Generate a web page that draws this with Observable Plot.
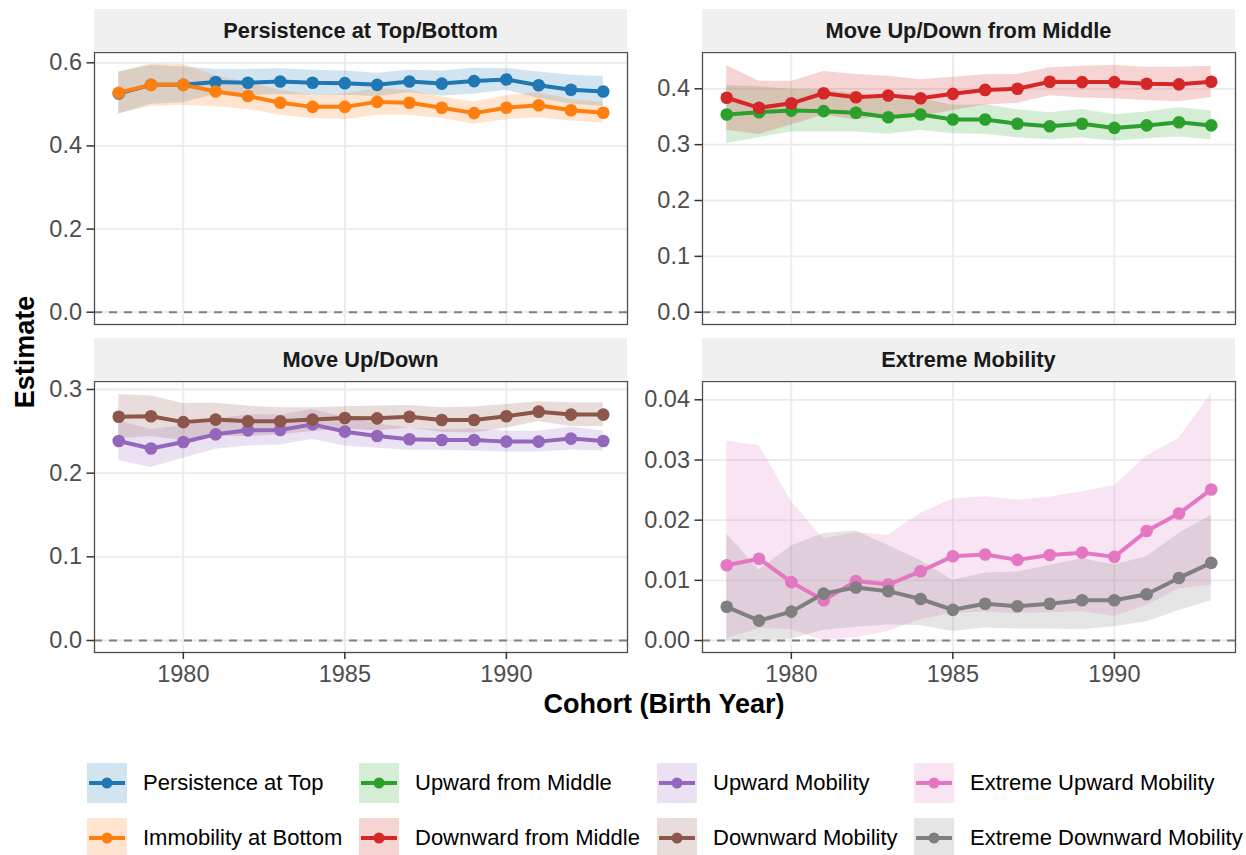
<!DOCTYPE html>
<html>
<head>
<meta charset="utf-8">
<script src="https://cdn.jsdelivr.net/npm/d3@7"></script>
<script src="https://cdn.jsdelivr.net/npm/@observablehq/plot@0.6"></script>
<style>
  html, body { margin: 0; padding: 0; background: #ffffff; }
  #chart { position: relative; width: 1246px; height: 855px; overflow: hidden;
           font-family: "Liberation Sans", Arial, Helvetica, sans-serif; }
  .panel { position: absolute; }
  .strip { position: absolute; background: #f0f0f0; color: #1a1a1a; font-weight: bold;
           font-size: 21.8px; display: flex; align-items: center; justify-content: center; }
  .axis-title { position: absolute; font-weight: bold; font-size: 27px; color: #000; white-space: nowrap; }
  .legend-item { position: absolute; display: flex; align-items: center; height: 40px; }
  .legend-item span { font-size: 22px; color: #000; margin-left: 16px; white-space: nowrap; }
</style>
</head>
<body>
<div id="chart"></div>
<script>
// Birth cohorts
const years = [1978, 1979, 1980, 1981, 1982, 1983, 1984, 1985, 1986, 1987, 1988, 1989, 1990, 1991, 1992, 1993];

// Persistence at Top / Immobility at Bottom
const persistTop    = [0.526, 0.547, 0.547, 0.554, 0.552, 0.555, 0.552, 0.551, 0.547, 0.555, 0.550, 0.556, 0.560, 0.546, 0.535, 0.531];
const persistTopLo  = [0.476, 0.500, 0.504, 0.524, 0.521, 0.524, 0.522, 0.522, 0.519, 0.528, 0.520, 0.525, 0.534, 0.514, 0.500, 0.495];
const persistTopHi  = [0.577, 0.594, 0.590, 0.584, 0.584, 0.586, 0.582, 0.580, 0.575, 0.582, 0.580, 0.587, 0.586, 0.578, 0.570, 0.567];
const immobBottom   = [0.528, 0.547, 0.547, 0.531, 0.520, 0.504, 0.494, 0.494, 0.506, 0.504, 0.492, 0.479, 0.492, 0.498, 0.486, 0.480];
const immobBottomLo = [0.478, 0.495, 0.498, 0.494, 0.487, 0.474, 0.466, 0.463, 0.474, 0.474, 0.466, 0.452, 0.463, 0.468, 0.460, 0.455];
const immobBottomHi = [0.578, 0.597, 0.596, 0.568, 0.553, 0.534, 0.522, 0.525, 0.538, 0.534, 0.518, 0.506, 0.521, 0.528, 0.512, 0.505];

// Upward / Downward from Middle
const upMiddle     = [0.354, 0.358, 0.361, 0.360, 0.357, 0.349, 0.354, 0.345, 0.345, 0.3375, 0.333, 0.3375, 0.330, 0.3345, 0.340, 0.3345];
const upMiddleLo   = [0.302, 0.3125, 0.3226, 0.3226, 0.3226, 0.3185, 0.3256, 0.3196, 0.3185, 0.3125, 0.3089, 0.3119, 0.3065, 0.3107, 0.3137, 0.3089];
const upMiddleHi   = [0.406, 0.4035, 0.3994, 0.3974, 0.3914, 0.3795, 0.3824, 0.3704, 0.3715, 0.3625, 0.3571, 0.3631, 0.3535, 0.3583, 0.3663, 0.3601];
const downMiddle   = [0.384, 0.366, 0.374, 0.392, 0.385, 0.388, 0.383, 0.391, 0.398, 0.400, 0.4125, 0.412, 0.412, 0.409, 0.408, 0.4125];
const downMiddleLo = [0.326, 0.318, 0.335, 0.353, 0.344, 0.353, 0.350, 0.361, 0.371, 0.374, 0.3875, 0.3835, 0.382, 0.379, 0.377, 0.3845];
const downMiddleHi = [0.4417, 0.4137, 0.4131, 0.4310, 0.4256, 0.4226, 0.4161, 0.4208, 0.4250, 0.4256, 0.4375, 0.4405, 0.4417, 0.4387, 0.4387, 0.4405];

// Upward / Downward Mobility
const upMob     = [0.2385, 0.2294, 0.2373, 0.2464, 0.2512, 0.2516, 0.2583, 0.2496, 0.2444, 0.2405, 0.2397, 0.2397, 0.2377, 0.2377, 0.2413, 0.2385];
const upMobLo   = [0.2147, 0.2067, 0.2179, 0.2286, 0.2325, 0.2337, 0.2405, 0.2325, 0.2298, 0.2274, 0.2274, 0.2266, 0.2254, 0.2254, 0.2278, 0.2266];
const upMobHi   = [0.2623, 0.2521, 0.2567, 0.2642, 0.2699, 0.2695, 0.2761, 0.2667, 0.2590, 0.2536, 0.2520, 0.2528, 0.2500, 0.2500, 0.2548, 0.2504];
const downMob   = [0.2675, 0.268, 0.261, 0.264, 0.262, 0.262, 0.264, 0.266, 0.2655, 0.2675, 0.2635, 0.2635, 0.268, 0.2735, 0.270, 0.270];
const downMobLo = [0.2410, 0.2439, 0.2387, 0.2443, 0.2438, 0.2458, 0.2498, 0.2526, 0.2508, 0.2540, 0.2488, 0.2480, 0.2539, 0.2617, 0.2559, 0.2559];
const downMobHi = [0.2940, 0.2921, 0.2833, 0.2837, 0.2802, 0.2782, 0.2782, 0.2794, 0.2802, 0.2810, 0.2782, 0.2790, 0.2821, 0.2853, 0.2841, 0.2841];

// Extreme Upward / Downward Mobility
const extUp     = [0.0125, 0.0136, 0.0097, 0.0067, 0.0099, 0.0093, 0.0115, 0.0140, 0.0143, 0.0134, 0.0142, 0.0146, 0.0139, 0.0182, 0.0211, 0.0251];
const extUpLo   = [0.0003, 0.0020, 0.0018, 0.0000, 0.0005, 0.0015, 0.0035, 0.0045, 0.0047, 0.0045, 0.0046, 0.0048, 0.0040, 0.0058, 0.0086, 0.0092];
const extUpHi   = [0.0331, 0.0324, 0.0231, 0.0169, 0.0179, 0.0175, 0.0211, 0.0235, 0.0239, 0.0233, 0.0238, 0.0247, 0.0257, 0.0306, 0.0336, 0.0410];
const extDown   = [0.0056, 0.0033, 0.0048, 0.0078, 0.0088, 0.0082, 0.0069, 0.0051, 0.0061, 0.0057, 0.0061, 0.0067, 0.0067, 0.0077, 0.0104, 0.0129];
const extDownLo = [0.0000, 0.0000, 0.0002, 0.0017, 0.0022, 0.0026, 0.0025, 0.0015, 0.0021, 0.0019, 0.0019, 0.0018, 0.0023, 0.0031, 0.0050, 0.0066];
const extDownHi = [0.0177, 0.0117, 0.0157, 0.0178, 0.0182, 0.0158, 0.0133, 0.0100, 0.0112, 0.0114, 0.0125, 0.0136, 0.0126, 0.0139, 0.0178, 0.0208];

// Series names and colours, in legend order
const seriesNames = ["Persistence at Top", "Immobility at Bottom", "Upward from Middle", "Downward from Middle",
                     "Upward Mobility", "Downward Mobility", "Extreme Upward Mobility", "Extreme Downward Mobility"];
const seriesColors = ["#1f77b4", "#ff7f0e", "#2ca02c", "#d62728", "#9467bd", "#8c564b", "#e377c2", "#7f7f7f"];

// Facet titles and tick values
const facetTitles = ["Persistence at Top/Bottom", "Move Up/Down from Middle", "Move Up/Down", "Extreme Mobility"];
const xTicks = [1980, 1985, 1990];
const yTicks1 = [0, 0.2, 0.4, 0.6];
const yTicks2 = [0, 0.1, 0.2, 0.3, 0.4];
const yTicks3 = [0, 0.1, 0.2, 0.3];
const yTicks4 = [0, 0.01, 0.02, 0.03, 0.04];

const xLabel = "Cohort (Birth Year)";
const yLabel = "Estimate";

function rowsFor(name, est, lo, hi) {
  return years.map((year, i) => ({year, series: name, est: est[i], lo: lo[i], hi: hi[i]}));
}

const colorOf = Object.fromEntries(seriesNames.map((n, i) => [n, seriesColors[i]]));

const panels = [
  {title: facetTitles[0], left: 94, top: 52, h: 272, ml: 94, showX: false,
   domain: [-0.0296, 0.6248], ticks: yTicks1, fmt: d3.format(".1f"),
   rows: [...rowsFor(seriesNames[0], persistTop, persistTopLo, persistTopHi),
          ...rowsFor(seriesNames[1], immobBottom, immobBottomLo, immobBottomHi)]},
  {title: facetTitles[1], left: 702, top: 52, h: 272, ml: 70, showX: false,
   domain: [-0.022, 0.465], ticks: yTicks2, fmt: d3.format(".1f"),
   rows: [...rowsFor(seriesNames[2], upMiddle, upMiddleLo, upMiddleHi),
          ...rowsFor(seriesNames[3], downMiddle, downMiddleLo, downMiddleHi)]},
  {title: facetTitles[2], left: 94, top: 381, h: 271, ml: 94, showX: true,
   domain: [-0.01434, 0.30956], ticks: yTicks3, fmt: d3.format(".1f"),
   rows: [...rowsFor(seriesNames[4], upMob, upMobLo, upMobHi),
          ...rowsFor(seriesNames[5], downMob, downMobLo, downMobHi)]},
  {title: facetTitles[3], left: 702, top: 381, h: 271, ml: 70, showX: true,
   domain: [-0.00199, 0.04304], ticks: yTicks4, fmt: d3.format(".2f"),
   rows: [...rowsFor(seriesNames[6], extUp, extUpLo, extUpHi),
          ...rowsFor(seriesNames[7], extDown, extDownLo, extDownHi)]}
];

const chart = document.getElementById("chart");
const PW = 533;

for (const p of panels) {
  const mb = p.showX ? 48 : 2;
  const names = [...new Set(p.rows.map(d => d.series))];
  const svg = Plot.plot({
    width: p.ml + PW + 2,
    height: 1 + p.h + mb,
    marginLeft: p.ml, marginRight: 2, marginTop: 1, marginBottom: mb,
    x: {domain: [1977.25, 1993.75], axis: null},
    y: {domain: p.domain, axis: null},
    color: {domain: names, range: names.map(n => colorOf[n])},
    style: {background: "transparent", fontFamily: "'Liberation Sans', Arial, sans-serif",
            color: "#4d4d4d", overflow: "visible"},
    marks: [
      Plot.gridX(xTicks, {stroke: "#ebebeb", strokeOpacity: 1, strokeWidth: 1.8}),
      Plot.gridY(p.ticks, {stroke: "#ebebeb", strokeOpacity: 1, strokeWidth: 1.8}),
      Plot.ruleY([0], {stroke: "#7f7f7f", strokeWidth: 2, strokeDasharray: "8,7"}),
      Plot.areaY(p.rows, {x: "year", y1: "lo", y2: "hi", z: "series", fill: "series", fillOpacity: 0.2}),
      Plot.line(p.rows, {x: "year", y: "est", z: "series", stroke: "series", strokeWidth: 4}),
      Plot.dot(p.rows, {x: "year", y: "est", fill: "series", r: 6.3}),
      Plot.frame({stroke: "#4d4d4d", strokeWidth: 1.3}),
      Plot.axisY(p.ticks, {tickSize: 7.5, tickPadding: 5, fontSize: 23.5, tickFormat: p.fmt, label: null,
                           stroke: "#333333", strokeWidth: 1.5, fill: "#4d4d4d"}),
      p.showX ? Plot.axisX(xTicks, {tickSize: 7, tickPadding: 6, fontSize: 23.5, tickFormat: d => String(d),
                                    label: null, stroke: "#333333", strokeWidth: 1.5, fill: "#4d4d4d"}) : null
    ]
  });
  svg.classList.add("panel");
  svg.style.left = (p.left - p.ml) + "px";
  svg.style.top = (p.top - 1) + "px";
  chart.appendChild(svg);

  const strip = document.createElement("div");
  strip.className = "strip";
  strip.style.left = p.left + "px";
  strip.style.top = (p.top - 43) + "px";
  strip.style.width = PW + "px";
  strip.style.height = "43px";
  strip.textContent = p.title;
  chart.appendChild(strip);
}

// Axis titles
const xt = document.createElement("div");
xt.className = "axis-title";
xt.textContent = xLabel;
xt.style.left = "664px";
xt.style.top = "704px";
xt.style.transform = "translate(-50%, -50%)";
chart.appendChild(xt);

const yt = document.createElement("div");
yt.className = "axis-title";
yt.textContent = yLabel;
yt.style.left = "25px";
yt.style.top = "352px";
yt.style.transform = "translate(-50%, -50%) rotate(-90deg)";
chart.appendChild(yt);

// Legend: two rows, four columns, filled column by column
const legendX = [87, 359, 657, 914];
const legendY = [763, 818];
seriesNames.forEach((name, i) => {
  const col = Math.floor(i / 2), row = i % 2;
  const color = seriesColors[i];
  const item = document.createElement("div");
  item.className = "legend-item";
  item.style.left = legendX[col] + "px";
  item.style.top = legendY[row] + "px";
  item.innerHTML =
    `<svg width="40" height="40" style="display:block">
       <rect x="0" y="0" width="40" height="40" fill="${color}" fill-opacity="0.2"></rect>
       <line x1="2" x2="38" y1="20" y2="20" stroke="${color}" stroke-width="4"></line>
       <circle cx="20" cy="20" r="5.5" fill="${color}"></circle>
     </svg><span>${name}</span>`;
  chart.appendChild(item);
});
</script>
</body>
</html>
